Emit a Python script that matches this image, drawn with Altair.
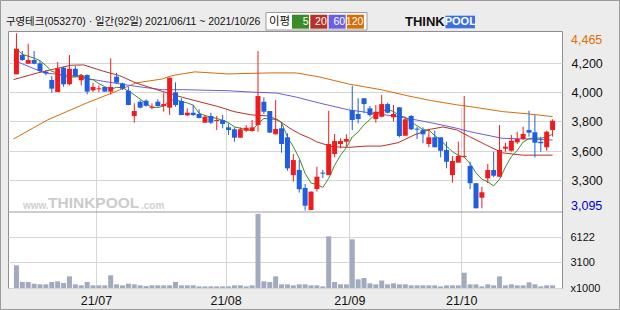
import altair as alt
import pandas as pd

# ---------------- data ----------------
title_text = "구영테크(053270) · 일간(92일) 2021/06/11 ~ 2021/10/26"
legend_title = "이평"
ma_names = ["5", "20", "60", "120"]

opens = [4148, 4297, 4230, 4259, 4233, 4168, 4104, 4011, 4199, 4071,
         4191, 4102, 4143, 4024, 4032, 4050, 4014, 4130, 4078, 4021,
         3826, 3936, 3944, 3890, 3936, 3903, 3890, 4009, 3942, 3831,
         3851, 3841, 3774, 3826, 3787, 3795, 3738, 3723, 3658, 3712,
         3710, 3756, 3936, 3864, 3684, 3731, 3661, 3369, 3408, 3269,
         3099, 3261, 3388, 3369, 3532, 3609, 3627, 3872, 3841, 3963,
         3885, 3802, 3820, 3918, 3816, 3893, 3673, 3826, 3728, 3717,
         3609, 3661, 3661, 3563, 3369, 3465, 3509, 3439, 3306, 3194,
         3344, 3408, 3356, 3573, 3557, 3622, 3648, 3717, 3700, 3627,
         3584, 3717]
highs = [4465, 4328, 4385, 4328, 4251, 4181, 4135, 4243, 4207, 4297,
         4212, 4148, 4148, 4083, 4063, 4052, 4272, 4160, 4083, 4052,
         3924, 3949, 3955, 3924, 3955, 4006, 4122, 4086, 3963, 3885,
         3911, 3878, 3833, 3851, 3826, 3833, 3769, 3738, 3738, 3756,
         3795, 4328, 3970, 3864, 3949, 3769, 3692, 3532, 3485, 3300,
         3241, 3434, 3408, 3867, 3687, 3653, 3684, 4060, 3963, 3963,
         3903, 3911, 3988, 3929, 3911, 3893, 3816, 3833, 3743, 3738,
         3723, 3712, 3661, 3627, 3517, 3627, 3980, 3472, 3306, 3279,
         3455, 3550, 3756, 3619, 3679, 3704, 3743, 3867, 3833, 3666,
         3712, 3800]
lows = [4148, 4251, 4230, 4225, 4166, 4140, 4006, 4011, 4052, 4063,
        4135, 4063, 3993, 4011, 4011, 4014, 3993, 4078, 4027, 3909,
        3774, 3885, 3898, 3878, 3898, 3859, 3833, 3898, 3833, 3826,
        3826, 3808, 3774, 3764, 3717, 3731, 3679, 3627, 3658, 3704,
        3704, 3704, 3841, 3697, 3684, 3542, 3403, 3318, 3233, 3095,
        3099, 3241, 3344, 3369, 3506, 3576, 3588, 3717, 3769, 3847,
        3820, 3774, 3816, 3847, 3782, 3661, 3673, 3717, 3648, 3615,
        3584, 3584, 3506, 3421, 3310, 3465, 3506, 3261, 3112, 3112,
        3306, 3352, 3356, 3550, 3550, 3609, 3640, 3666, 3506, 3550,
        3557, 3666]
closes = [4346, 4259, 4259, 4230, 4174, 4156, 4037, 4194, 4071, 4191,
          4135, 4140, 4014, 4050, 4040, 4014, 4050, 4083, 4037, 3911,
          3864, 3890, 3905, 3898, 3903, 3918, 4122, 3911, 3833, 3851,
          3833, 3810, 3820, 3774, 3795, 3764, 3717, 3658, 3723, 3735,
          3738, 3980, 3859, 3697, 3725, 3609, 3421, 3485, 3259, 3132,
          3241, 3356, 3380, 3609, 3632, 3632, 3648, 3795, 3802, 3918,
          3833, 3859, 3918, 3851, 3841, 3671, 3800, 3723, 3720, 3684,
          3661, 3584, 3557, 3472, 3478, 3517, 3517, 3306, 3112, 3236,
          3408, 3364, 3563, 3588, 3635, 3648, 3687, 3697, 3619, 3615,
          3704, 3789]
volumes = [2740, 724, 724, 523, 443, 443, 724, 805, 603, 1408,
           443, 322, 724, 322, 322, 322, 1529, 443, 322, 523,
           443, 322, 241, 322, 322, 322, 322, 724, 322, 322,
           322, 200, 200, 200, 200, 200, 200, 322, 322, 200,
           322, 8950, 805, 724, 1408, 443, 443, 322, 443, 443,
           322, 322, 200, 6240, 724, 443, 443, 5878, 1050, 1207,
           563, 443, 905, 443, 563, 443, 443, 322, 322, 322,
           322, 322, 200, 322, 322, 322, 1850, 443, 443, 200,
           443, 322, 1408, 322, 443, 322, 322, 684, 443, 200,
           322, 322]  # x1000 shares

ma20_idx = [-0.5, 3.6, 9.2, 11.4, 14.75, 17.5, 20.3, 24.75, 28.6, 34.2, 36.9, 39.75,
            42.5, 44.2, 46.4, 48.1, 49.75, 50.9, 53.6, 56.4, 59.2, 61.9, 64.75, 67.5,
            70.25, 72.4, 74.75, 76.9, 79.75, 82.5, 85.9, 91]
ma20_val = [4107, 4159, 4218, 4221, 4172, 4138, 4081, 4016, 3965, 3899, 3860, 3835,
            3827, 3801, 3731, 3687, 3655, 3627, 3588, 3583, 3593, 3593, 3619, 3679,
            3723, 3741, 3718, 3666, 3601, 3541, 3523, 3523]
ma60_idx = [-0.5, 4.75, 9.2, 14.75, 20.3, 24.75, 28.6, 35.9, 39.75, 44.2, 47.5,
            51.4, 56.4, 59.75, 64.75, 70.25, 74.75, 76.9, 82.5, 86.9, 91]
ma60_val = [4257, 4159, 4138, 4094, 4055, 4029, 4029, 4021, 4011, 4003, 3972,
            3926, 3873, 3852, 3821, 3775, 3731, 3705, 3653, 3648, 3640]
ma120_idx = [-0.5, 5.3, 11.9, 16.9, 20.25, 24.75, 26.4, 30.25, 35.9, 43.1, 47.5,
             51.4, 56.4, 61.9, 66.4, 70.25, 74.75, 76.9, 82.5, 86.9, 91]
ma120_val = [3648, 3796, 3926, 4016, 4081, 4112, 4138, 4167, 4151, 4159, 4159,
             4128, 4073, 4029, 3982, 3946, 3912, 3899, 3860, 3842, 3821]

price_max_label = "4,465"
price_min_label = "3,095"
price_max = 4465
price_min = 3095
price_tick_values = [4233, 4009, 3785, 3555, 3329]
price_tick_labels = ["4,200", "4,000", "3,800", "3,600", "3,300"]
vol_tick_values = [0, 3100, 6122]
vol_tick_labels = ["x1000", "3100", "6122"]
month_start_idx = [14, 36, 57, 76]
month_labels = ["21/07", "21/08", "21/09", "21/10"]

# ---------------- styles ----------------
W, H = 554, 257
PH = 181
UP, DOWN = "#f01c1c", "#1f5ee0"
VOLC = "#a2aac0"
MA_COLORS = ["#3d8b27", "#b8302a", "#6a5fdc", "#d86c08"]
GRID = "#d6d6d6"
FONT = "Liberation Sans"
KFONT = "Noto Sans CJK KR"
MIXFONT = "Liberation Sans, Noto Sans CJK KR"

df = pd.DataFrame({"idx": list(range(len(opens))), "open": opens, "high": highs,
                   "low": lows, "close": closes, "vol": volumes})
df["dir"] = ["up" if c >= o else "down" for o, c in zip(opens, closes)]

x_scale = alt.Scale(domain=[-0.583, 91.75], nice=False, zero=False)
p_scale = alt.Scale(domain=[3083.4, 4483], range=[PH, 0], nice=False, zero=False)
v_scale = alt.Scale(domain=[0, 9173], range=[H, PH], nice=False, zero=False)
col = alt.Color("dir:N", scale=alt.Scale(domain=["up", "down"], range=[UP, DOWN]), legend=None)


def label_expr(vals, labels):
    expr = "''"
    for v, l in reversed(list(zip(vals, labels))):
        expr = f"(abs(datum.value - {v}) < 0.01) ? '{l}' : ({expr})"
    return expr


month_ticks = [m - 0.5 for m in month_start_idx]
x_axis = alt.Axis(values=month_ticks, labelExpr=label_expr(month_ticks, month_labels),
                  grid=True, gridColor=GRID, domain=False, ticks=False, labelPadding=6,
                  labelFontSize=12.5, labelFont=FONT, labelColor="#111", title=None,
                  labelFlush=False, labelOverlap=False)
p_axis = alt.Axis(orient="right", values=price_tick_values,
                  labelExpr=label_expr(price_tick_values, price_tick_labels),
                  grid=True, gridColor=GRID, domain=False, ticks=False, labelPadding=9,
                  labelFontSize=12.5, labelFont=FONT, labelColor="#111", title=None,
                  labelFlush=False, labelOverlap=False)
v_axis = alt.Axis(orient="right", values=vol_tick_values,
                  labelExpr=label_expr(vol_tick_values, vol_tick_labels),
                  grid=True, gridColor=GRID, domain=False, ticks=False, labelPadding=8,
                  labelFontSize=11, labelFont=FONT, labelColor="#111", title=None,
                  labelFlush=False, labelOverlap=False)


def X():
    return alt.X("idx:Q", scale=x_scale, axis=x_axis)


def PY(field):
    return alt.Y(field, type="quantitative", scale=p_scale, axis=p_axis)


base = alt.Chart(df)

wicks = base.mark_rule(strokeWidth=1).encode(x=X(), y=PY("low"), y2="high:Q", color=col)
bodies = base.mark_bar(width=5).encode(x=X(), y=PY("open"), y2="close:Q", color=col)

ma5 = base.transform_window(
    ma5="mean(close)", frame=[-4, 0], sort=[alt.SortField("idx")]
).mark_line(strokeWidth=1, color=MA_COLORS[0]).encode(x=X(), y=PY("ma5"))


def ma_line(idx, val, color):
    d = pd.DataFrame({"idx": idx, "val": val})
    return alt.Chart(d).mark_line(strokeWidth=1, color=color, clip=True).encode(
        x=X(), y=PY("val"))


ma20 = ma_line(ma20_idx, ma20_val, MA_COLORS[1])
ma60 = ma_line(ma60_idx, ma60_val, MA_COLORS[2])
ma120 = ma_line(ma120_idx, ma120_val, MA_COLORS[3])

first = base.transform_filter("datum.idx == 0")
max_lbl = first.mark_text(align="left", baseline="middle", dy=7, fontSize=12.5,
                          font=FONT, color="#e07000").encode(
    x=alt.value(W + 9), y=alt.YDatum(price_max, scale=p_scale, axis=p_axis),
    text=alt.value(price_max_label))
min_lbl = first.mark_text(align="left", baseline="middle", dy=-4, fontSize=12.5,
                          font=FONT, color="#0000cc").encode(
    x=alt.value(W + 9), y=alt.YDatum(price_min, scale=p_scale, axis=p_axis),
    text=alt.value(price_min_label))

one = alt.Chart(pd.DataFrame({"k": [0]}))
divider = one.mark_rule(color="#9a9a9a", strokeWidth=1).encode(
    x=alt.value(0), x2=alt.value(W), y=alt.value(PH))

# watermark
wm1 = one.mark_text(align="left", baseline="middle", fontSize=10, fontWeight="bold",
                    font=FONT, color="#cfcfcf").encode(
    x=alt.value(15), y=alt.value(175), text=alt.value("www."))
wm2 = one.mark_text(align="left", baseline="middle", fontSize=15.5, fontWeight="bold",
                    font=FONT, color="#cbcbcb").encode(
    x=alt.value(40), y=alt.value(172), text=alt.value("THINKPOOL"))
wm3 = one.mark_text(align="left", baseline="middle", fontSize=10, fontWeight="bold",
                    font=FONT, color="#cfcfcf").encode(
    x=alt.value(133), y=alt.value(175), text=alt.value(".com"))

price_layer = alt.layer(ma120, ma60, ma20, ma5, wicks, bodies, max_lbl, min_lbl)

vol_layer = base.mark_bar(width=5, color=VOLC).encode(
    x=X(), y=alt.Y("vol:Q", scale=v_scale, axis=v_axis))

# header
header = one.mark_text(align="left", baseline="middle", fontSize=10.4, font=MIXFONT,
                       color="#111").encode(
    x=alt.value(-2), y=alt.value(-9), text=alt.value(title_text))
leg_frame = one.mark_rect(fill="white", stroke="#9a9a9a", strokeWidth=1).encode(
    x=alt.value(258), x2=alt.value(359), y=alt.value(-18.5), y2=alt.value(-1))
leg_title = one.mark_text(align="left", baseline="middle", fontSize=11.5, font=KFONT,
                          color="#111").encode(
    x=alt.value(261), y=alt.value(-9.5), text=alt.value(legend_title))
leg_items = []
for k, (name, c) in enumerate(zip(ma_names, MA_COLORS)):
    x0 = 284 + 18.3 * k
    leg_items.append(one.mark_rect(fill=c).encode(
        x=alt.value(x0), x2=alt.value(x0 + 17), y=alt.value(-16.3), y2=alt.value(-2.3)))
    leg_items.append(one.mark_text(align="right", baseline="middle", fontSize=10.5,
                                   font=FONT, color="white").encode(
        x=alt.value(x0 + 16.5), y=alt.value(-9.3), text=alt.value(name)))

logo_think = one.mark_text(align="left", baseline="middle", fontSize=13, fontWeight="bold",
                           font=FONT, color="#111").encode(
    x=alt.value(397), y=alt.value(-9), text=alt.value("THINK"))
logo_box = one.mark_rect(fill="#3c6fe0").encode(
    x=alt.value(437.5), x2=alt.value(467), y=alt.value(-15.3), y2=alt.value(-2.7))
logo_pool = one.mark_text(align="center", baseline="middle", fontSize=11, fontWeight="bold",
                          font=FONT, color="white").encode(
    x=alt.value(452.3), y=alt.value(-9), text=alt.value("POOL"))

frame = one.mark_rect(filled=False, stroke="#9a9a9a", strokeWidth=1).encode(
    x=alt.value(-7.5), x2=alt.value(611.5), y=alt.value(-30.5), y2=alt.value(278.5))

chart = alt.layer(
    wm1, wm2, wm3,
    alt.layer(price_layer, vol_layer).resolve_scale(y="independent"),
    divider, header, leg_frame, leg_title, *leg_items, logo_think, logo_box, logo_pool, frame
).properties(
    width=W, height=H,
    padding={"left": 8, "top": 31, "right": 58, "bottom": 22},
    autosize=alt.AutoSizeParams(type="none"),
).configure(background="#ececec").configure_view(fill="white", stroke="#8e8e8e", strokeWidth=1)

chart.save("out.html", embed_options={"renderer": "svg", "actions": False})
